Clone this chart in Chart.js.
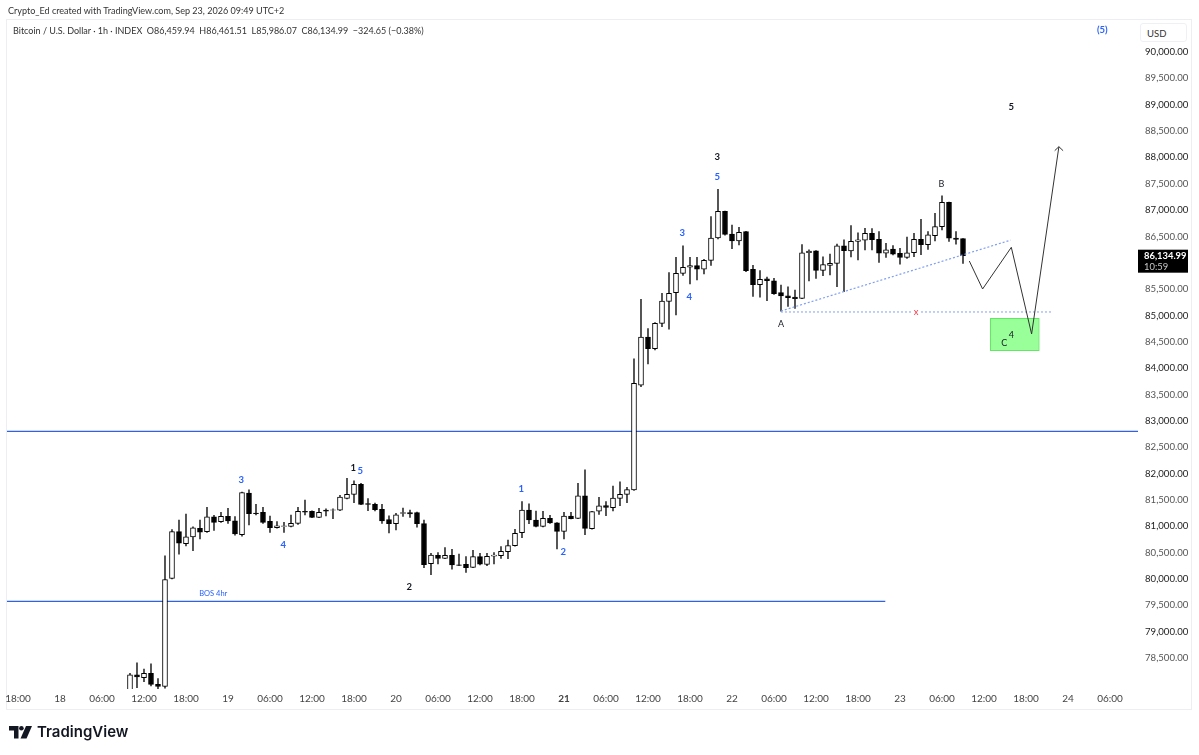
<!DOCTYPE html>
<html>
<head>
<meta charset="utf-8">
<title>Bitcoin / U.S. Dollar</title>
<script src="https://cdn.jsdelivr.net/npm/chart.js@4"></script>
<style>
    html, body { margin: 0; padding: 0; background: #fff; }
    #wrap { position: relative; width: 1199px; height: 755px; overflow: hidden; font-family: Lato, sans-serif; }
    canvas { position: absolute; left: 0; top: 0; }
    .txt { position: absolute; white-space: pre; color: #131722; }
    #credit { left: 8px; top: 4px; font-size: 9.05px; line-height: 14px; color: #333; }
    #legend { left: 13px; top: 24px; font-size: 9px; line-height: 14px; color: #333; }
    #usd { left: 1140px; top: 23px; width: 47px; height: 19px; box-sizing: border-box; border: 1px solid #eef0f3; border-radius: 3px; font-size: 9.5px; line-height: 19px; color: #333; padding-left: 6px; background: #fff; }
    #brand { left: 37px; top: 720px; font-family: Inter, sans-serif; font-weight: 600; font-size: 15px; line-height: 24px; color: #131722; }
    #logo { position: absolute; left: 9px; top: 726px; }
</style>
</head>
<body>
<div id="wrap">
    <canvas id="priceChart" width="1199" height="755"></canvas>
    <div class="txt" id="credit">Crypto_Ed created with TradingView.com, Sep 23, 2026 09:49 UTC+2</div>
    <div class="txt" id="legend">Bitcoin / U.S. Dollar · 1h · INDEX  O86,459.94  H86,461.51  L85,986.07  C86,134.99  −324.65 (−0.38%)</div>
    <div class="txt" id="usd">USD</div>
    <svg id="logo" width="23" height="13" viewBox="0 0 23 13">
        <path d="M0 0H9.5V12.5H5V4.5H0Z" fill="#131722"/>
        <circle cx="12.4" cy="2.3" r="2.3" fill="#131722"/>
        <path d="M17 0H23L17.5 12.5H11.5Z" fill="#131722"/>
    </svg>
    <div class="txt" id="brand">TradingView</div>
</div>

<script>
// Hours are counted from Sep 18 00:00, one candle per hour
const firstHour = 10;

const opens = [
    77830,78180,78130,78210,78000,77960,80010,80900,80670,80800,
    80960,80900,81180,81090,81190,81105,80840,81630,81250,81265,
    81095,80975,81000,81000,81055,81285,81285,81170,81310,81305,
    81305,81530,81605,81795,81430,81415,81320,81130,81050,81245,
    81260,81260,81050,80290,80450,80390,80450,80270,80280,80220,
    80425,80275,80435,80445,80520,80635,80880,81310,81120,81000,
    81150,81065,80905,81195,81150,81580,80955,81285,81395,81355,
    81530,81605,81690,83680,84590,84370,84850,85265,85435,85800,
    85915,85945,85880,86045,86470,86975,86545,86415,86590,85875,
    85585,85695,85660,85435,85375,85350,85325,86190,86225,85855,
    85950,85990,86320,86225,86405,86430,86560,86445,86185,86260,
    86180,86100,86190,86445,86345,86515,86685,87145,86470,86459.94
];
const highs = [
    78210,78410,78290,78390,78110,80440,80940,81120,81230,80990,
    81120,81360,81210,81265,81340,81185,81650,81690,81415,81360,
    81195,81090,81075,81215,81360,81500,81295,81340,81330,81330,
    81590,81910,81865,81815,81525,81440,81415,81200,81245,81345,
    81310,81270,81120,80485,80500,80595,80565,80475,80425,80545,
    80485,80485,80500,80615,80740,80945,81470,81425,81290,81285,
    81210,81070,81265,81265,81815,82070,81285,81550,81470,81765,
    81845,81740,84180,85305,84750,84865,85420,85815,86105,86320,
    86105,86105,86065,86875,87395,86980,86715,86675,86595,85950,
    85850,85730,85705,85575,85545,85480,86345,86245,86230,86115,
    86165,86355,86435,86705,86570,86655,86650,86590,86370,86325,
    86275,86490,86560,86825,86590,86940,87270,87150,86590,86461.51
];
const lows = [
    77800,77940,78050,77970,77920,77930,80000,80470,80630,80540,
    80760,80885,80920,81075,81055,80830,80815,81025,81215,81055,
    80885,80965,80885,80990,81035,81215,81165,81165,81195,81145,
    81295,81520,81450,81410,81295,81290,81055,80875,80930,81190,
    81170,80985,80215,80080,80285,80385,80185,80255,80125,80215,
    80265,80255,80285,80390,80385,80625,80785,81050,80990,80990,
    81055,80570,80760,81140,81145,80840,80945,81225,81200,81290,
    81390,81450,81680,83650,84080,84345,84790,84740,85010,85760,
    85600,85675,85790,85950,86455,86525,86270,86340,85830,85360,
    85350,85280,85400,85080,85170,85135,85320,85655,85705,85755,
    85770,85545,85450,86110,86055,86245,86245,86005,86100,86150,
    85975,86085,86115,86155,86255,86415,86625,86405,86355,85986.07
];
const closes = [
    78180,78140,78210,78000,77960,79990,80900,80680,80800,80970,
    80890,81180,81075,81190,81100,80855,81640,81240,81240,81075,
    80975,81010,81010,81055,81285,81270,81170,81265,81285,81315,
    81555,81605,81795,81415,81415,81315,81100,81050,81220,81260,
    81235,81050,80270,80455,80390,80450,80265,80260,80215,80425,
    80280,80430,80455,80525,80635,80865,81310,81120,81000,81150,
    81065,80905,81195,81145,81580,80960,81280,81390,81360,81535,
    81605,81695,83715,84590,84370,84850,85275,85420,85800,85915,
    85945,85880,86045,86470,86975,86540,86415,86580,85850,85585,
    85685,85660,85415,85370,85340,85320,86190,86220,85855,85965,
    85990,86320,86230,86405,86435,86560,86440,86185,86245,86165,
    86100,86190,86445,86345,86530,86685,87145,86465,86445,86134.99
];
const candleHours = closes.map((c, i) => firstHour + i);

// Time axis labels, one every 6 hours starting at hour -6
const timeLabels = [
    '18:00','18','06:00','12:00','18:00','19','06:00','12:00','18:00',
    '20','06:00','12:00','18:00','21','06:00','12:00','18:00',
    '22','06:00','12:00','18:00','23','06:00','12:00','18:00','24','06:00'
];
const priceTicks = [
    78500,79000,79500,80000,80500,81000,81500,82000,82500,83000,83500,84000,
    84500,85000,85500,86000,86500,87000,87500,88000,88500,89000,89500,90000
];

// Drawings on the chart
const supportTop = 82802;
const bosLevel = 79577;
const bosEndHour = 117.9;

const trendHours = [103, 135.8];
const trendPrices = [85085, 86430];
const lowHours = [103, 121.6, null, 123, 141.7];
const lowPrices = [85067, 85067, null, 85067, 85067];
const pathHours = [129.9, 131.8, 135.9, 138.8, 142.7];
const pathPrices = [86034, 85503, 86294, 84649, 88203];
const arrowHours = [142.1, 142.7, 143.3];
const arrowPrices = [88127, 88203, 88127];
const zoneHour = 136.4;
const zoneLow = 84332;
const zoneHigh = 84947;

const blueTexts = ['3', '4', '5', '1', '2', '3', '4', '5', '(5)'];
const blueHours = [25.9, 31.9, 42.9, 65.9, 71.9, 88.9, 89.9, 93.9, 148.9];
const bluePrices = [81879, 80645, 82049, 81708, 80512, 86565, 85351, 87638, 90417];
const waveTexts = ['1', '2', '3', '5'];
const waveHours = [41.9, 49.9, 93.9, 135.9];
const wavePrices = [82106, 79848, 88008, 88956];
const letterTexts = ['A', 'B', 'C', '4'];
const letterHours = [103, 125.9, 134.9, 135.9];
const letterPrices = [84839, 87495, 84469, 84630];

const lastPrice = closes[closes.length - 1];
const lastPriceText = '86,134.99';
const countdownText = '10:59';

const FONT = 'Lato, sans-serif';
const BLUE_LINE = '#2f62e6';
const BLUE_TEXT = '#2962ff';
const DOTTED = '#7f9ff5';

function toPoints(xs, ys) {
    return xs.map((x, i) => ({ x: x, y: ys[i] }));
}

function lineSet(xs, ys, color, width, dash, order) {
    return {
        type: 'line',
        data: toPoints(xs, ys),
        borderColor: color,
        borderWidth: width,
        borderDash: dash,
        pointRadius: 0,
        tension: 0,
        spanGaps: false,
        order: order
    };
}

// Text on the chart and the price tag on the axis
const chartLabels = {
    id: 'chartLabels',
    afterDatasetsDraw(chart) {
        const { ctx, scales, chartArea } = chart;
        const write = (texts, hours, prices, font, color) => {
            ctx.font = font;
            ctx.fillStyle = color;
            texts.forEach((t, i) => {
                ctx.fillText(t, scales.x.getPixelForValue(hours[i]), scales.y.getPixelForValue(prices[i]));
            });
        };
        ctx.save();
        ctx.textAlign = 'center';
        ctx.textBaseline = 'middle';
        write(blueTexts, blueHours, bluePrices, 'bold 9.5px ' + FONT, BLUE_TEXT);
        write(waveTexts, waveHours, wavePrices, 'bold 9.5px ' + FONT, '#131722');
        write(letterTexts, letterHours, letterPrices, '9px ' + FONT, '#131722');
        write(['BOS 4hr'], [21.9], [79716], '7.5px ' + FONT, BLUE_TEXT);
        write(['x'], [122.3], [85067], '9.5px ' + FONT, '#f23645');

        // last price tag
        const py = scales.y.getPixelForValue(lastPrice);
        ctx.fillStyle = '#000';
        ctx.fillRect(chartArea.right, py - 6, 50, 23);
        ctx.textAlign = 'left';
        ctx.font = 'bold 9.4px ' + FONT;
        ctx.fillStyle = '#fff';
        ctx.fillText(lastPriceText, chartArea.right + 6, py);
        ctx.font = '9.4px ' + FONT;
        ctx.fillStyle = '#c8c8c8';
        ctx.fillText(countdownText, chartArea.right + 6, py + 11);
        ctx.restore();
    }
};

// Thin frame around the panes
const paneFrame = {
    id: 'paneFrame',
    beforeDraw(chart) {
        const { ctx, chartArea, scales } = chart;
        ctx.save();
        ctx.strokeStyle = '#eceef2';
        ctx.lineWidth = 1;
        ctx.strokeRect(chartArea.left - 0.5, chartArea.top - 0.5, scales.y.right - chartArea.left + 1, scales.x.bottom - chartArea.top + 1);
        ctx.restore();
    }
};

const ctx = document.getElementById('priceChart').getContext('2d');

new Chart(ctx, {
    type: 'bar',
    data: {
        datasets: [
            lineSet(arrowHours, arrowPrices, '#333', 1, [], 1),
            lineSet(pathHours, pathPrices, '#333', 1, [], 2),
            lineSet(trendHours, trendPrices, DOTTED, 1.2, [2, 2], 3),
            lineSet(lowHours, lowPrices, DOTTED, 1, [2, 2], 4),
            {
                // candle bodies
                data: candleHours.map((h, i) => ({ x: h, y: [Math.min(opens[i], closes[i]), Math.max(opens[i], closes[i])] })),
                backgroundColor: closes.map((c, i) => c >= opens[i] ? '#ffffff' : '#000000'),
                borderColor: '#000',
                borderWidth: 1,
                borderSkipped: false,
                barThickness: 5,
                grouped: false,
                order: 5
            },
            {
                // candle wicks
                data: candleHours.map((h, i) => ({ x: h, y: [lows[i], highs[i]] })),
                backgroundColor: '#333',
                borderWidth: 0,
                barThickness: 1,
                grouped: false,
                order: 6
            },
            {
                // green target zone
                data: [{ x: zoneHour, y: [zoneLow, zoneHigh] }],
                backgroundColor: '#99ff99',
                borderColor: '#62e862',
                borderWidth: 1,
                borderSkipped: false,
                barThickness: 49,
                grouped: false,
                order: 7
            },
            lineSet([-8, 155], [supportTop, supportTop], BLUE_LINE, 1.3, [], 8),
            lineSet([-8, bosEndHour], [bosLevel, bosLevel], BLUE_LINE, 1.3, [], 9)
        ]
    },
    options: {
        responsive: false,
        animation: false,
        devicePixelRatio: 1,
        layout: { padding: { left: 7, top: 20, right: 8, bottom: 46 } },
        plugins: {
            legend: { display: false },
            title: { display: false },
            tooltip: { enabled: false }
        },
        scales: {
            x: {
                type: 'linear',
                min: -7.57,
                max: 154,
                offset: false,
                grid: { display: false, drawTicks: false },
                border: { display: false },
                afterFit: function(scale) { scale.height = 20; },
                ticks: {
                    stepSize: 6,
                    autoSkip: false,
                    includeBounds: false,
                    maxRotation: 0,
                    padding: 4,
                    color: '#444',
                    font: function(c) {
                        const isDay21 = c.tick && timeLabels[(c.tick.value + 6) / 6] === '21';
                        return { family: FONT, size: 10, weight: isDay21 ? 'bold' : 'normal' };
                    },
                    callback: function(value) {
                        return timeLabels[(value + 6) / 6];
                    }
                }
            },
            y: {
                type: 'linear',
                position: 'right',
                min: 77913,
                max: 90607,
                grid: { display: false, drawTicks: false },
                border: { display: false },
                afterFit: function(scale) { scale.width = 53; },
                afterBuildTicks: function(scale) {
                    scale.ticks = priceTicks.map(v => ({ value: v }));
                },
                ticks: {
                    padding: 7,
                    color: function(c) { return c.tick && c.tick.value % 1000 === 0 ? '#222' : '#555'; },
                    font: { family: FONT, size: 9.6 },
                    callback: function(value) {
                        return value.toLocaleString('en-US', { minimumFractionDigits: 2 });
                    }
                }
            }
        }
    },
    plugins: [paneFrame, chartLabels]
});
</script>
</body>
</html>
